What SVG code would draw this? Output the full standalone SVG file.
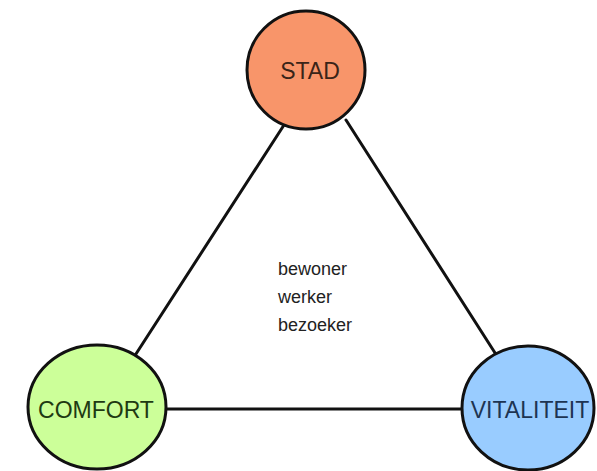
<svg xmlns="http://www.w3.org/2000/svg" width="597" height="471" viewBox="0 0 597 471">
<style>
.edge{stroke:#111;stroke-width:3;fill:none;stroke-linecap:round}
.node{stroke:#111;stroke-width:3}
.lbl{font-family:"Liberation Sans",Arial,sans-serif;font-size:23px;text-anchor:middle;dominant-baseline:central}
.mid{font-family:"Liberation Sans",Arial,sans-serif;font-size:18px;fill:#222}
</style>
<rect width="597" height="471" fill="#fff"/>
<g id="connectors">
<line class="edge" x1="284" y1="125" x2="134" y2="357"/>
<line class="edge" x1="346" y1="120" x2="497" y2="356"/>
<line class="edge" x1="166" y1="409" x2="463" y2="409"/>
</g>
<g id="stad">
<circle class="node" cx="306" cy="70" r="59" fill="#f8956a"/>
<text class="lbl" x="310" y="71" fill="#3a2418">STAD</text>
</g>
<g id="comfort">
<ellipse class="node" cx="97" cy="407" rx="69" ry="62" fill="#ccff99"/>
<text class="lbl" x="96" y="410" fill="#1e3a12">COMFORT</text>
</g>
<g id="vitaliteit">
<ellipse class="node" cx="528" cy="408" rx="66" ry="62" fill="#99ccff"/>
<text class="lbl" x="530" y="410" fill="#1d3452">VITALITEIT</text>
</g>
<g id="users">
<text class="mid" x="278" y="275">bewoner</text>
<text class="mid" x="278" y="303">werker</text>
<text class="mid" x="278" y="331">bezoeker</text>
</g>
</svg>
